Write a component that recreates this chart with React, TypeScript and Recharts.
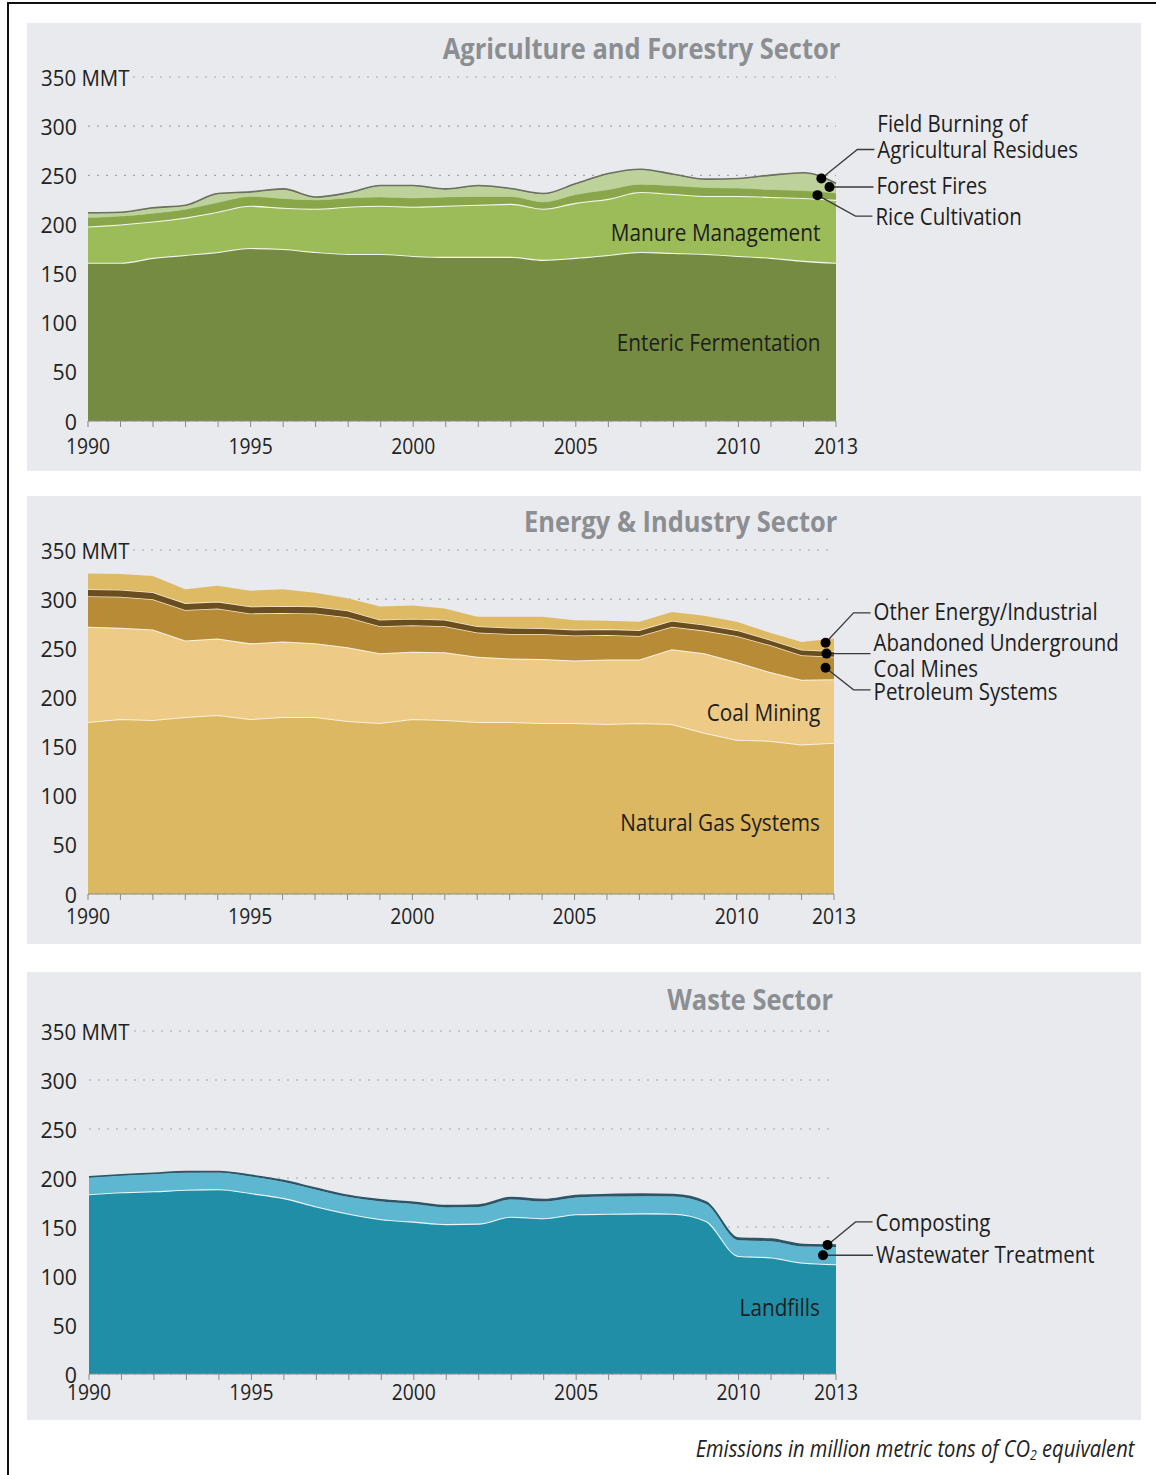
import React from 'react';
import { AreaChart, Area, XAxis, YAxis, CartesianGrid, ReferenceDot } from 'recharts';

// ---------- shared ----------
const years = [1990, 1991, 1992, 1993, 1994, 1995, 1996, 1997, 1998, 1999, 2000, 2001, 2002, 2003, 2004, 2005, 2006, 2007, 2008, 2009, 2010, 2011, 2012, 2013];
const yTicks = [0, 50, 100, 150, 200, 250, 300, 350];
const xLabelYears = [1990, 1995, 2000, 2005, 2010, 2013];

// ---------- Agriculture and Forestry ----------
const entericFermentation = [161, 161, 166, 169, 172, 176, 175, 172, 170, 170, 168, 167, 167, 167, 164, 166, 169, 172, 171, 170, 168, 166, 163, 161];
const manureManagement = [37, 39, 37, 38, 41, 43, 42, 44, 48, 49, 50, 52, 53, 54, 52, 56, 57, 61, 60, 59, 61, 62, 64, 64];
const riceCultivation = [9, 8.5, 8.5, 8.5, 9.5, 9.5, 9.5, 9, 9, 9, 9, 9, 8.5, 7.5, 7, 8.5, 9.5, 8, 8.5, 8.5, 8, 7.5, 7.5, 7];
const forestFires = [4.5, 3.5, 5, 3.7, 8.5, 4.3, 9.3, 2.5, 4.8, 11.2, 12.2, 7.8, 10.7, 7.6, 8, 10.7, 15.9, 14.8, 11.2, 8.2, 9.4, 14.3, 17.7, 9.5];
const fieldBurning = [0.4, 0.4, 0.4, 0.4, 0.4, 0.3, 0.4, 0.4, 0.4, 0.4, 0.4, 0.4, 0.4, 0.4, 0.4, 0.4, 0.4, 0.4, 0.4, 0.4, 0.4, 0.4, 0.4, 0.4];

// ---------- Energy & Industry ----------
const naturalGasSystems = [175, 178, 177, 180, 182, 178, 180, 180, 176, 174, 178, 177, 175, 175, 174, 174, 173, 174, 173, 164, 157, 156, 152, 154];
const coalMining = [97, 93, 92, 78, 78, 77, 77, 75, 75, 71, 68.5, 69, 66.5, 64.5, 65, 63.5, 65.5, 64.5, 76, 81, 79, 70, 66, 64.5];
const petroleumSystems = [31, 31.5, 31, 31, 30.5, 30.5, 29, 30.5, 30.5, 27.5, 27, 26.5, 24.5, 25, 25.5, 25.5, 25, 24, 23, 23, 26.5, 27.5, 25, 23];
const abandonedCoalMines = [7, 7, 7, 7, 7, 7, 7, 7, 7, 6.5, 6.5, 6.5, 6.5, 6.5, 6, 6, 6, 6, 6, 6, 6, 5.5, 5.5, 5.5];
const otherEnergy = [16, 16, 16.5, 14, 16, 16, 17, 14, 12.5, 13.5, 13.5, 11.5, 9.5, 11, 11.5, 9.5, 8.5, 8.5, 9, 9, 8.5, 7, 8, 13];

// ---------- Waste ----------
const landfills = [183.5, 185.5, 186.5, 188, 188.5, 184.5, 179.5, 171, 163.5, 158, 155.5, 153, 153.5, 160.5, 159, 163, 163.5, 164, 163.5, 156, 120.5, 119, 113.5, 112];
const wastewaterTreatment = [17, 17, 17.5, 17.5, 17, 17, 16.5, 17, 17, 18, 18, 17, 17, 17.5, 17, 17, 17.5, 17.5, 17.5, 17.5, 16, 16.5, 16.5, 17.5];
const composting = [0.7, 0.8, 0.9, 1, 1.1, 1.2, 1.3, 1.4, 1.6, 1.7, 1.8, 1.9, 2, 2, 2.1, 2.1, 2.1, 2.1, 2.1, 2.1, 2.1, 2.1, 2.1, 2.1];

const agData = years.map((year, i) => ({
  year,
  enteric: entericFermentation[i],
  manure: manureManagement[i],
  rice: riceCultivation[i],
  forest: forestFires[i],
  field: fieldBurning[i],
}));
const energyData = years.map((year, i) => ({
  year,
  gas: naturalGasSystems[i],
  coal: coalMining[i],
  petroleum: petroleumSystems[i],
  abandoned: abandonedCoalMines[i],
  other: otherEnergy[i],
}));
const wasteData = years.map((year, i) => ({
  year,
  landfills: landfills[i],
  wastewater: wastewaterTreatment[i],
  composting: composting[i],
}));

// value of a stack (sum of series) at a fractional year
const stackAt = (series: number[][], x: number) => {
  const i = Math.min(Math.floor(x - 1990), years.length - 1);
  const j = Math.min(i + 1, years.length - 1);
  const t = x - 1990 - i;
  return series.reduce((s, arr) => s + arr[i] * (1 - t) + arr[j] * t, 0);
};

const FONT = "'Open Sans', 'Noto Sans', sans-serif";
const PANEL_BG = '#e9eaed';
const W = 1114;
const H = 448;

// horizontally compressed svg text (the original uses a condensed face)
const SText = ({
  x,
  y,
  sx,
  size,
  anchor = 'start',
  fill = '#1e1e1e',
  children,
}: {
  x: number;
  y: number;
  sx: number;
  size: number;
  anchor?: 'start' | 'middle' | 'end';
  fill?: string;
  children: React.ReactNode;
}) => (
  <text
    transform={`translate(${x} ${y}) scale(${sx} 1)`}
    x={0}
    y={0}
    textAnchor={anchor}
    dominantBaseline="central"
    fontFamily={FONT}
    fontSize={size}
    fill={fill}
  >
    {children}
  </text>
);

type Note = {
  x: number;
  y: number;
  lines: string[];
  elbow?: [number, number];
  end: number;
  textX: number;
  textDy: number[];
};

const noteShape = (n: Note) => (p: any) => {
  const { cx, cy } = p;
  const pts = n.elbow
    ? `${cx},${cy} ${cx + n.elbow[0]},${cy + n.elbow[1]} ${cx + n.end},${cy + n.elbow[1]}`
    : `${cx},${cy} ${cx + n.end},${cy}`;
  return (
    <g>
      <polyline points={pts} fill="none" stroke="#3a3a3a" strokeWidth={1.3} />
      <circle cx={cx} cy={cy} r={5} fill="#000" />
      {n.lines.map((l, k) => (
        <SText key={k} x={cx + n.textX} y={cy + n.textDy[k]} sx={0.89} size={23}>
          {l}
        </SText>
      ))}
    </g>
  );
};

const YTick = (props: any) => {
  const { y, payload } = props;
  if (payload.value === 350) {
    return (
      <g>
        <rect x={12} y={y - 13} width={92} height={26} fill={PANEL_BG} />
        <SText x={14} y={y} sx={0.93} size={22} fill="#222">
          350 MMT
        </SText>
      </g>
    );
  }
  return (
    <SText x={50} y={y} sx={0.97} size={22} anchor="end" fill="#222">
      {payload.value}
    </SText>
  );
};

const makeXTick = (dy: number) => (props: any) => {
  const { x, y, payload } = props;
  if (!xLabelYears.includes(payload.value)) return <g />;
  return (
    <SText x={x} y={y + dy} sx={0.92} size={21} anchor="middle" fill="#222">
      {payload.value}
    </SText>
  );
};

const Panel = ({ top, children }: { top: number; children: React.ReactNode }) => (
  <div style={{ position: 'absolute', left: 27, top, width: W, height: H, background: PANEL_BG }}>{children}</div>
);

const Title = ({ text, right, cy }: { text: string; right: number; cy: number }) => (
  <div
    style={{
      position: 'absolute',
      right: 1156 - right,
      top: cy - 17,
      height: 34,
      lineHeight: '34px',
      fontFamily: FONT,
      fontWeight: 'bold',
      fontSize: 29,
      color: '#8b8e92',
      whiteSpace: 'nowrap',
      transform: 'scaleX(0.877)',
      transformOrigin: 'right center',
    }}
  >
    {text}
  </div>
);

const AreaLabel = ({ text, right, cy }: { text: string; right: number; cy: number }) => (
  <div
    style={{
      position: 'absolute',
      right: 1156 - right,
      top: cy - 15,
      height: 30,
      lineHeight: '30px',
      fontFamily: FONT,
      fontSize: 24,
      color: '#1e1e1e',
      whiteSpace: 'nowrap',
      transform: 'scaleX(0.865)',
      transformOrigin: 'right center',
    }}
  >
    {text}
  </div>
);

const renderAxes = (tickDy: number) => [
  <CartesianGrid key="g" horizontal vertical={false} stroke="#a3a5a8" strokeDasharray="2 7" strokeWidth={1.2} />,
  <XAxis
    key="x"
    dataKey="year"
    type="number"
    domain={[1990, 2013]}
    ticks={years}
    interval={0}
    height={30}
    tickSize={6}
    tickMargin={4}
    stroke="#8a8a8a"
    tick={makeXTick(tickDy)}
  />,
  <YAxis
    key="y"
    type="number"
    domain={[0, 350]}
    ticks={yTicks}
    width={61}
    axisLine={false}
    tickLine={false}
    tick={<YTick />}
    allowDataOverflow
  />,
];

const agNotes: Note[] = [
  {
    x: 2012.55,
    y: stackAt([entericFermentation, manureManagement, riceCultivation, forestFires, fieldBurning], 2012.55),
    lines: ['Field Burning of', 'Agricultural Residues'],
    elbow: [36, -29],
    end: 53,
    textX: 56,
    textDy: [-55, -29],
  },
  {
    x: 2012.8,
    y:
      stackAt([entericFermentation, manureManagement, riceCultivation], 2012.8) +
      stackAt([forestFires], 2012.8) / 2,
    lines: ['Forest Fires'],
    end: 44,
    textX: 47,
    textDy: [-2],
  },
  {
    x: 2012.43,
    y: stackAt([entericFermentation, manureManagement], 2012.43) + stackAt([riceCultivation], 2012.43) / 2,
    lines: ['Rice Cultivation'],
    elbow: [38, 21],
    end: 55,
    textX: 58,
    textDy: [21],
  },
];

const energyNotes: Note[] = [
  {
    x: 2012.74,
    y:
      stackAt([naturalGasSystems, coalMining, petroleumSystems, abandonedCoalMines], 2012.74) +
      stackAt([otherEnergy], 2012.74) * 0.7,
    lines: ['Other Energy/Industrial'],
    elbow: [28, -30],
    end: 45,
    textX: 48,
    textDy: [-32],
  },
  {
    x: 2012.77,
    y: stackAt([naturalGasSystems, coalMining, petroleumSystems], 2012.77) + stackAt([abandonedCoalMines], 2012.77) / 2,
    lines: ['Abandoned Underground', 'Coal Mines'],
    end: 44,
    textX: 47,
    textDy: [-12, 14],
  },
  {
    x: 2012.74,
    y: stackAt([naturalGasSystems, coalMining], 2012.74) + stackAt([petroleumSystems], 2012.74) / 2,
    lines: ['Petroleum Systems'],
    elbow: [28, 22],
    end: 45,
    textX: 48,
    textDy: [23],
  },
];

const wasteNotes: Note[] = [
  {
    x: 2012.74,
    y: stackAt([landfills, wastewaterTreatment, composting], 2012.74),
    lines: ['Composting'],
    elbow: [28, -23],
    end: 45,
    textX: 48,
    textDy: [-23],
  },
  {
    x: 2012.6,
    y: stackAt([landfills], 2012.6) + stackAt([wastewaterTreatment], 2012.6) / 2,
    lines: ['Wastewater Treatment'],
    end: 50,
    textX: 53,
    textDy: [-1],
  },
];

const renderNotes = (notes: Note[], prefix: string) =>
  notes.map((n, i) => (
    <ReferenceDot key={prefix + i} x={n.x} y={n.y} r={5} ifOverflow="visible" shape={noteShape(n)} />
  ));

export default function App() {
  return (
    <div style={{ position: 'absolute', left: 0, top: 0, width: 1156, height: 1475, background: '#fff', overflow: 'hidden' }}>
      <div
        style={{
          position: 'absolute',
          left: 7,
          top: 2,
          width: 1200,
          height: 1600,
          borderLeft: '2px solid #111',
          borderTop: '2px solid #111',
        }}
      />

      {/* Agriculture */}
      <Panel top={23}>
        <AreaChart width={W} height={H} data={agData} margin={{ top: 54, right: 305, bottom: 20, left: 0 }}>
          {renderAxes(15)}
          <Area type="monotone" dataKey="enteric" stackId="a" fill="#748b41" fillOpacity={1} stroke="#f4f6ee" strokeWidth={2.2} isAnimationActive={false} />
          <Area type="monotone" dataKey="manure" stackId="a" fill="#9cbb59" fillOpacity={1} stroke="#f4f6ee" strokeWidth={2.2} isAnimationActive={false} />
          <Area type="monotone" dataKey="rice" stackId="a" fill="#89a64a" fillOpacity={1} stroke="#a9c47a" strokeWidth={1} isAnimationActive={false} />
          <Area type="monotone" dataKey="forest" stackId="a" fill="#bdd29b" fillOpacity={1} stroke="none" isAnimationActive={false} />
          <Area type="monotone" dataKey="field" stackId="a" fill="#6c705f" fillOpacity={1} stroke="#6c705f" strokeWidth={1.6} isAnimationActive={false} />
          {renderNotes(agNotes, 'ag')}
        </AreaChart>
      </Panel>
      <Title text="Agriculture and Forestry Sector" right={840} cy={48} />
      <AreaLabel text="Manure Management" right={820} cy={232} />
      <AreaLabel text="Enteric Fermentation" right={820} cy={342} />

      {/* Energy */}
      <Panel top={496}>
        <AreaChart width={W} height={H} data={energyData} margin={{ top: 54, right: 307, bottom: 20, left: 0 }}>
          {renderAxes(12)}
          <Area type="linear" dataKey="gas" stackId="e" fill="#dcb862" fillOpacity={1} stroke="#f8f1de" strokeWidth={2} isAnimationActive={false} />
          <Area type="linear" dataKey="coal" stackId="e" fill="#edca86" fillOpacity={1} stroke="#faf3e3" strokeWidth={2} isAnimationActive={false} />
          <Area type="linear" dataKey="petroleum" stackId="e" fill="#b88c37" fillOpacity={1} stroke="#f1e6cc" strokeWidth={1.6} isAnimationActive={false} />
          <Area type="linear" dataKey="abandoned" stackId="e" fill="#6a4e1f" fillOpacity={1} stroke="#f1e6cc" strokeWidth={1.6} isAnimationActive={false} />
          <Area type="linear" dataKey="other" stackId="e" fill="#dfba65" fillOpacity={1} stroke="none" isAnimationActive={false} />
          {renderNotes(energyNotes, 'en')}
        </AreaChart>
      </Panel>
      <Title text="Energy & Industry Sector" right={837} cy={521} />
      <AreaLabel text="Coal Mining" right={820} cy={712} />
      <AreaLabel text="Natural Gas Systems" right={820} cy={822} />

      {/* Waste */}
      <Panel top={972}>
        <AreaChart width={W} height={H} data={wasteData} margin={{ top: 59, right: 305, bottom: 16, left: 1 }}>
          {renderAxes(8)}
          <Area type="monotone" dataKey="landfills" stackId="w" fill="#218ea7" fillOpacity={1} stroke="#eef7fa" strokeWidth={2.2} isAnimationActive={false} />
          <Area type="monotone" dataKey="wastewater" stackId="w" fill="#5db7d1" fillOpacity={1} stroke="none" isAnimationActive={false} />
          <Area type="monotone" dataKey="composting" stackId="w" fill="#2c5667" fillOpacity={1} stroke="#2c5667" strokeWidth={1.6} isAnimationActive={false} />
          {renderNotes(wasteNotes, 'wa')}
        </AreaChart>
      </Panel>
      <Title text="Waste Sector" right={833} cy={999} />
      <AreaLabel text="Landfills" right={820} cy={1307} />

      <div
        style={{
          position: 'absolute',
          right: 1156 - 1134,
          top: 1448 - 15,
          height: 30,
          lineHeight: '30px',
          fontFamily: FONT,
          fontStyle: 'italic',
          fontSize: 23,
          color: '#222',
          whiteSpace: 'nowrap',
          transform: 'scaleX(0.875)',
          transformOrigin: 'right center',
        }}
      >
        Emissions in million metric tons of CO<sub style={{ fontSize: 14, verticalAlign: '-3px' }}>2</sub> equivalent
      </div>
    </div>
  );
}
